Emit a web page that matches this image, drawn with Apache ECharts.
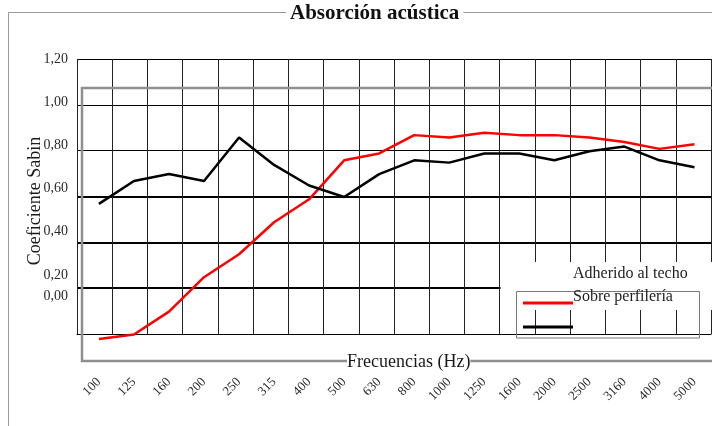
<!DOCTYPE html>
<html>
<head>
<meta charset="utf-8">
<script src="https://cdn.jsdelivr.net/npm/echarts@6/dist/echarts.min.js"></script>
<style>
html,body{margin:0;padding:0;background:#fff;}
#chart{width:712px;height:426px;}
</style>
</head>
<body>
<div id="chart"></div>
<script>
const categories = ['100','125','160','200','250','315','400','500','630','800','1000','1250','1600','2000','2500','3160','4000','5000'];
const adheridoValues = [0.10,0.12,0.22,0.37,0.47,0.61,0.71,0.88,0.91,0.99,0.98,1.00,0.99,0.99,0.98,0.96,0.93,0.95];
const perfileriaValues = [0.69,0.79,0.82,0.79,0.98,0.86,0.77,0.72,0.82,0.88,0.87,0.91,0.91,0.88,0.92,0.94,0.88,0.85];
const yTickLabels = ['', '0,00', '0,20', '', '0,40', '', '0,60', '', '0,80', '', '1,00', '', '1,20'];
const seriesNames = ['Adherido al techo', 'Sobre perfilería'];
const titleText = 'Absorción acústica';
const xTitle = 'Frecuencias (Hz)';
const yTitle = 'Coeficiente Sabin';

const FONT = '"Liberation Serif", "DejaVu Serif", serif';
const chart = echarts.init(document.getElementById('chart'), null, {renderer: 'canvas'});
const TR = 'rgba(0,0,0,0)';

chart.setOption({
  animation: false,
  backgroundColor: '#fff',
  title: {
    text: titleText, left: 286, top: 2, padding: [1, 4],
    backgroundColor: '#fff',
    textStyle: {fontFamily: FONT, fontSize: 21, fontWeight: 'bold', color: '#111'}
  },
  grid: [
    {left: 77, top: 59, width: 634, height: 275},
    {left: 81.4, top: 87, width: 633.6, height: 275},
    {left: 77, top: 59, width: 634, height: 259.2}
  ],
  xAxis: [
    {gridIndex: 0, type: 'category', data: categories, boundaryGap: true,
     axisLine: {lineStyle: {color: '#000', width: 1}},
     axisTick: {inside: true, length: 24, lineStyle: {color: '#000', width: 2}},
     axisLabel: {show: false},
     splitLine: {show: true, lineStyle: {color: '#222', width: 1}}},
    {gridIndex: 1, type: 'category', data: categories, boundaryGap: true,
     axisLine: {show: false}, axisTick: {show: false}, splitLine: {show: false},
     axisLabel: {interval: 0, rotate: 45, margin: 18, fontSize: 13, fontFamily: FONT, color: '#2a2a2a'}},
    {gridIndex: 2, type: 'value', show: false}
  ],
  yAxis: [
    {gridIndex: 0, type: 'value', min: 0, max: 6, interval: 1,
     axisLabel: {show: false}, axisLine: {show: false}, axisTick: {show: false},
     splitLine: {show: true, lineStyle: {color: '#000', width: 1}}},
    {gridIndex: 0, type: 'value', min: 0, max: 6, interval: 1,
     axisLabel: {show: false}, axisLine: {show: false}, axisTick: {show: false},
     splitLine: {show: true, lineStyle: {color: [TR, '#000', '#000', '#000', TR, TR, TR], width: 2}}},
    {gridIndex: 1, type: 'value', min: 0, max: 1.2, show: false},
    {gridIndex: 2, type: 'category', data: yTickLabels, boundaryGap: false,
     axisLine: {show: false}, axisTick: {show: false}, splitLine: {show: false},
     axisLabel: {interval: 0, margin: 9, fontSize: 14, fontFamily: FONT, color: '#2a2a2a'}}
  ],
  legend: [
    {data: seriesNames, orient: 'vertical', left: 523, top: 301.5, padding: 0,
     icon: 'rect', itemWidth: 50, itemHeight: 3, itemGap: 21,
     formatter: function () { return ' '; },
     textStyle: {fontSize: 1}, selectedMode: false},
    {data: seriesNames, orient: 'vertical', left: 568, top: 266, padding: 0,
     icon: 'rect', itemWidth: 0, itemHeight: 14, itemGap: 7,
     itemStyle: {opacity: 0},
     textStyle: {fontSize: 16, fontFamily: FONT, color: '#222'}, selectedMode: false}
  ],
  graphic: [
    {type: 'rect', z: 0, silent: true, shape: {x: 8.5, y: 12.5, width: 760, height: 480},
     style: {fill: 'none', stroke: '#999', lineWidth: 1}},
    {type: 'rect', z: 1, silent: true, shape: {x: 500.5, y: 262, width: 212, height: 48},
     style: {fill: '#fff'}},
    {type: 'rect', z: 1, silent: true, shape: {x: 82, y: 88, width: 632, height: 273},
     style: {fill: 'none', stroke: '#8f8f8f', lineWidth: 2.5}},
    {type: 'rect', z: 1, silent: true, shape: {x: 516.5, y: 291.5, width: 183, height: 46.5},
     style: {fill: 'none', stroke: '#777', lineWidth: 1}},
    {type: 'text', z: 2, silent: true, x: 347, y: 362,
     style: {text: xTitle, font: '18px ' + FONT, fill: '#1a1a1a', verticalAlign: 'middle', align: 'left', backgroundColor: '#fff'}},
    {type: 'text', z: 2, silent: true, x: 35, y: 201, rotation: Math.PI / 2,
     style: {text: yTitle, font: '18px ' + FONT, fill: '#1a1a1a', verticalAlign: 'middle', align: 'center'}}
  ],
  series: [
    {name: seriesNames[0], type: 'line', xAxisIndex: 1, yAxisIndex: 2, data: adheridoValues,
     symbol: 'none', showSymbol: false, color: '#ff0000', lineStyle: {color: '#ff0000', width: 2.5}, z: 5},
    {name: seriesNames[1], type: 'line', xAxisIndex: 1, yAxisIndex: 2, data: perfileriaValues,
     symbol: 'none', showSymbol: false, color: '#000', lineStyle: {color: '#000', width: 2.5}, z: 5}
  ]
});
</script>
</body>
</html>
